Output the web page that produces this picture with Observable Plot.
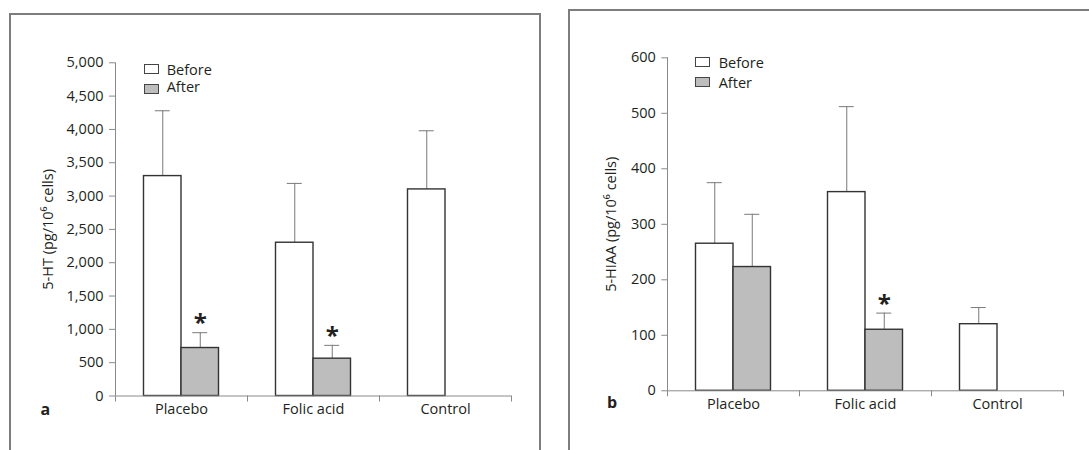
<!DOCTYPE html>
<html>
<head>
<meta charset="utf-8">
<script src="https://cdn.jsdelivr.net/npm/d3@7"></script>
<script src="https://cdn.jsdelivr.net/npm/@observablehq/plot@0.6"></script>
<style>
  body { margin: 0; background: #fff; font-family: "Open Sans", sans-serif; }
  #page { position: relative; width: 1089px; height: 450px; overflow: hidden; background: #fff; }
  .panel { position: absolute; border: 2px solid #7d7d7d; border-bottom: none; box-sizing: border-box; z-index: 2; }
  .plotwrap { position: absolute; top: 0; z-index: 1; }
  .lgtext { position: absolute; font-size: 14.5px; line-height: normal; color: #231f20; white-space: nowrap; z-index: 3; }
  .sw { position: absolute; width: 15px; height: 10px; border: 1.3px solid #444; box-sizing: border-box; z-index: 3; }
  .letter { position: absolute; font-weight: bold; font-size: 16px; line-height: normal; color: #231f20; z-index: 3; }
</style>
</head>
<body>
<div id="page"></div>
<script>
// ---------- data ----------
const categories = ["Placebo", "Folic acid", "Control"];
const series = ["Before", "After"];

// panel a: 5-HT (pg/10^6 cells)
const htBefore      = [3300, 2300, 3100];
const htBeforeUpper = [4280, 3190, 3980];
const htAfter       = [720, 560, null];
const htAfterUpper  = [950, 760, null];
const htSignificant = [true, true, false];
const htTicks = [0, 500, 1000, 1500, 2000, 2500, 3000, 3500, 4000, 4500, 5000];

// panel b: 5-HIAA (pg/10^6 cells)
const hiaaBefore      = [265, 358, 120];
const hiaaBeforeUpper = [375, 512, 150];
const hiaaAfter       = [223, 110, null];
const hiaaAfterUpper  = [318, 140, null];
const hiaaSignificant = [false, true, false];
const hiaaTicks = [0, 100, 200, 300, 400, 500, 600];

// ---------- styling ----------
const GRAY = "#bdbdbe", EDGE = "#333333", AX = "#8a8a8a", ERR = "#7a7a7a", TXT = "#231f20";
const BAND = 132, BAR = 37.5, OUT = 28.5, HALF = BAND / 2, CAP = 15;
const OFF = {Before: -HALF + OUT + BAR / 2, After: -HALF + OUT + BAR * 1.5};
const INSET = {Before: [OUT, BAND - OUT - BAR], After: [OUT + BAR, BAND - OUT - 2 * BAR]};

function rowsFor(before, beforeUpper, after, afterUpper, sig) {
  const rows = [];
  categories.forEach((c, i) => {
    if (before[i] != null) rows.push({category: c, series: "Before", value: before[i], upper: beforeUpper[i], sig: false});
    if (after[i] != null) rows.push({category: c, series: "After", value: after[i], upper: afterUpper[i], sig: sig[i]});
  });
  return rows;
}

function chart({rows, ticks, label, labelOffset, width, height, mt, mr, mb, ml}) {
  const yMax = ticks[ticks.length - 1];
  const marks = [];
  for (const s of series) {
    const data = rows.filter(d => d.series === s);
    marks.push(Plot.ruleX(data, {x: "category", y1: "value", y2: "upper", dx: OFF[s], stroke: ERR, strokeWidth: 1}));
    marks.push(Plot.tickY(data, {x: "category", y: "upper", insetLeft: HALF + OFF[s] - CAP / 2, insetRight: HALF - OFF[s] - CAP / 2, stroke: ERR, strokeWidth: 1}));
    marks.push(Plot.barY(data, {x: "category", y: "value", fill: s === "Before" ? "white" : GRAY, stroke: EDGE, strokeWidth: 1.4, insetLeft: INSET[s][0], insetRight: INSET[s][1]}));
  }
  marks.push(Plot.text(rows.filter(d => d.sig), {x: "category", y: "upper", text: () => "*", dx: OFF.After, dy: -9, fontSize: 24, fontWeight: "bold", fill: TXT}));
  marks.push(
    Plot.ruleY([0], {stroke: AX}),
    Plot.ruleX([categories[0]], {x: d => d, dx: -HALF, y1: 0, y2: yMax, stroke: AX}),
    Plot.axisX({ticks: categories, tickSize: 6, tickFormat: () => "", dx: -HALF, stroke: AX, label: null}),
    Plot.axisX({ticks: [categories[categories.length - 1]], tickSize: 6, tickFormat: () => "", dx: HALF, stroke: AX, label: null}),
    Plot.axisX({tickSize: 0, tickPadding: 8, fill: TXT, label: null}),
    Plot.axisY({ticks, tickFormat: d3.format(","), tickSize: 6, tickPadding: 6, stroke: AX, fill: TXT,
      label, labelAnchor: "center", labelOffset, labelArrow: "none"})
  );
  return Plot.plot({
    width, height, marginTop: mt, marginRight: mr, marginBottom: mb, marginLeft: ml,
    x: {type: "band", domain: categories, padding: 0},
    y: {domain: [0, yMax]},
    style: {fontFamily: "Open Sans", fontSize: "14.5px", background: "transparent", overflow: "visible", color: TXT},
    marks
  });
}

const page = document.getElementById("page");
function place(el, left) {
  const w = document.createElement("div");
  w.className = "plotwrap";
  w.style.left = left + "px";
  w.appendChild(el);
  page.appendChild(w);
}

place(chart({rows: rowsFor(htBefore, htBeforeUpper, htAfter, htAfterUpper, htSignificant),
  ticks: htTicks, label: "5-HT (pg/10⁶ cells)", labelOffset: 73,
  width: 545, height: 450, mt: 62.3, mr: 34, mb: 54.5, ml: 115}), 0);

place(chart({rows: rowsFor(hiaaBefore, hiaaBeforeUpper, hiaaAfter, hiaaAfterUpper, hiaaSignificant),
  ticks: hiaaTicks, label: "5-HIAA (pg/10⁶ cells)", labelOffset: 62,
  width: 544, height: 450, mt: 57.3, mr: 25.5, mb: 59.7, ml: 122.3}), 545);

// panel frames
function div(cls, css, text) {
  const d = document.createElement("div");
  d.className = cls;
  Object.assign(d.style, css);
  if (text) d.textContent = text;
  page.appendChild(d);
  return d;
}
div("panel", {left: "9px", top: "13px", width: "532px", height: "500px"});
div("panel", {left: "568px", top: "9px", width: "600px", height: "500px"});

// legends
function legend(x, textX, tops, textTops) {
  series.forEach((s, i) => {
    div("sw", {left: x + "px", top: tops[i] + "px", background: s === "Before" ? "#fff" : GRAY});
    div("lgtext", {left: textX + "px", top: textTops[i] + "px"}, s);
  });
}
legend(143.5, 166.7, [64.3, 83.8], [59.5, 77.2]);
legend(695.4, 718.7, [57.4, 77.4], [52.8, 72.8]);

// panel letters
div("letter", {left: "40.5px", top: "397.9px"}, "a");
div("letter", {left: "607px", top: "390.9px"}, "b");
</script>
</body>
</html>
